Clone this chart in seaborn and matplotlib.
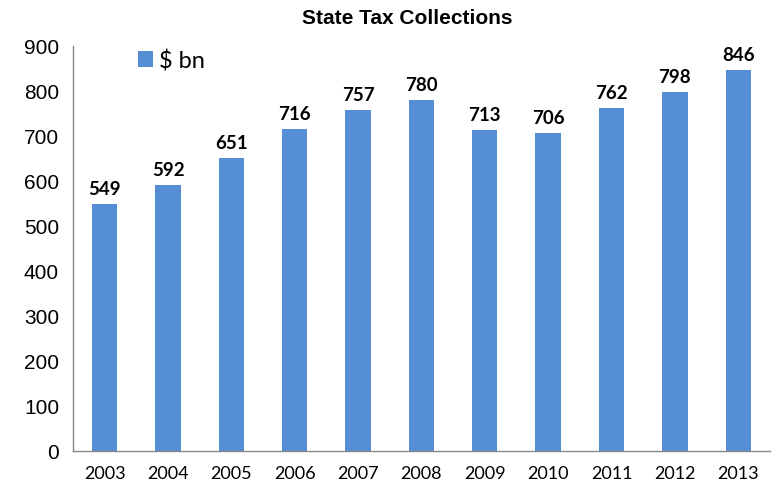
import matplotlib
matplotlib.use("Agg")
import matplotlib.pyplot as plt
import seaborn as sns
import numpy as np
import pandas as pd

years = ["2003", "2004", "2005", "2006", "2007", "2008", "2009", "2010", "2011", "2012", "2013"]
values = [549, 592, 651, 716, 757, 780, 713, 706, 762, 798, 846]
yticks = [0, 100, 200, 300, 400, 500, 600, 700, 800, 900]

sns.set_style("white")
plt.rcParams['font.family'] = ['Liberation Sans', 'DejaVu Sans']
plt.rcParams['text.color'] = 'black'
plt.rcParams['xtick.color'] = 'black'
plt.rcParams['ytick.color'] = 'black'

df = pd.DataFrame({"year": years, "value": values, "series": "$ bn"})

fig = plt.figure(figsize=(7.8, 4.89), dpi=100)
ax = fig.add_axes([0.0936, 0.0757, 0.8934, 0.8283])
color = "#558ED5"
sns.barplot(data=df, x="year", y="value", hue="series", palette=[color],
            width=0.4, ax=ax, saturation=1, legend=True, linewidth=0)

ax.set_xlim(-0.5, len(years) - 0.5)
ax.set_ylim(0, 900)
ax.set_yticks(yticks)
ax.set_yticklabels([str(t) for t in yticks], fontsize=15)
ax.set_xlabel("")
ax.set_ylabel("")

for lbl in ax.get_xticklabels():
    lbl.set_fontfamily(['Lato', 'DejaVu Sans'])
    lbl.set_fontsize(13)
    lbl.set_color('black')

ax.set_xticks(np.arange(-0.5, len(years)), minor=True)
ax.tick_params(axis='x', which='major', length=0, pad=10, labelcolor='black')
ax.tick_params(axis='x', which='minor', length=6, color='#888888', width=1, direction='out')
ax.tick_params(axis='y', which='major', length=5, color='#888888', width=1, direction='out',
               pad=5, labelcolor='black')

for s in ['top', 'right']:
    ax.spines[s].set_visible(False)
for s in ['left', 'bottom']:
    ax.spines[s].set_color('#888888')
    ax.spines[s].set_linewidth(1)

for i, v in enumerate(values):
    ax.annotate(str(v), xy=(i, v), xytext=(0, 5), textcoords='offset points',
                ha='center', va='bottom', fontsize=13.5, fontweight='bold',
                family=['Lato', 'DejaVu Sans'], color='black')

leg = ax.legend(loc='center left', bbox_to_anchor=(0.093, 0.965), frameon=False,
                handlelength=0.65, handleheight=0.65, handletextpad=0.25,
                borderpad=0, borderaxespad=0,
                prop={'family': ['Lato', 'DejaVu Sans'], 'size': 17})
for t in leg.get_texts():
    t.set_color('black')

fig.text(0.522, 0.962, "State Tax Collections", ha='center', va='center',
         fontsize=15, fontweight='bold', color='black')

fig.savefig("out.png", dpi=100)
